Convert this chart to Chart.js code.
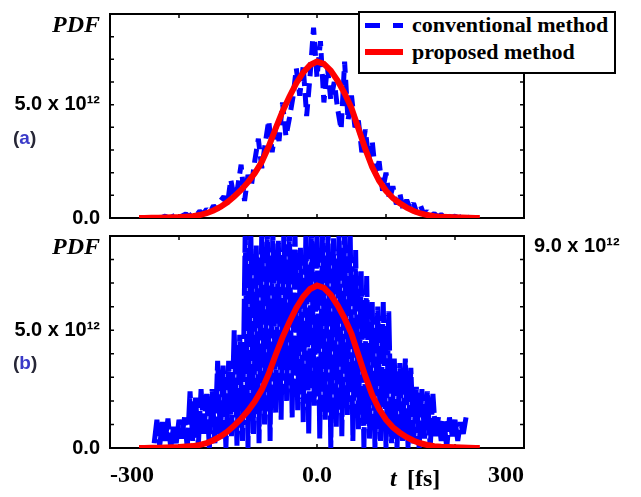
<!DOCTYPE html>
<html lang="en">
<head>
  <meta charset="UTF-8" />
  <title>PDF: conventional vs proposed method</title>
  <script src="https://cdn.jsdelivr.net/npm/chart.js"></script>
  <style>
    * { margin: 0; padding: 0; box-sizing: border-box; }
    body { background: #fff; width: 641px; height: 497px; overflow: hidden; position: relative; }
    canvas { position: absolute; left: 0; }
    #topChart { top: 0; }
    #bottomChart { top: 222px; }
    .legend {
      position: absolute; left: 358px; top: 11px; width: 258px; height: 63px;
      border: 2px solid #000; background: #fff;
      font: bold 22px 'Liberation Serif', 'Times New Roman', serif; color: #000;
    }
    .legend .row { position: absolute; left: 5px; height: 26px; display: flex; align-items: center; white-space: nowrap; }
    .legend .row1 { top: -1px; }
    .legend .row2 { top: 26px; }
    .legend .sample { width: 38px; margin-right: 9px; }
    .legend .dash { height: 5px; background: repeating-linear-gradient(90deg, #0000ff 0 15px, transparent 15px 28px); }
    .legend .solid { height: 6px; background: #ff0000; }
  </style>
</head>
<body>
  <canvas id="topChart" width="641" height="232"></canvas>
  <canvas id="bottomChart" width="641" height="275"></canvas>

  <div class="legend">
    <div class="row row1"><div class="sample dash"></div>conventional method</div>
    <div class="row row2"><div class="sample solid"></div>proposed method</div>
  </div>

  <script>
    // time axis in fs, PDF values in units of 10^12
    const tMin = -300, tMax = 300;
    const xTickLabels = { '-300': '-300', '0': '0.0', '300': '300' };
    const yTickLabels = { '0': '0.0', '5': '5.0 x 10\u00b9\u00b2' };
    const yTopLabel = '9.0 x 10\u00b9\u00b2';

    // proposed method (red, same curve in both panels)
    const redT = [-258, -250, -240, -230, -220, -210, -200, -190, -180, -170,
      -160, -150, -140, -130, -120, -110, -100, -90, -80, -70,
      -60, -50, -40, -30, -20, -10, 0, 10, 20, 30,
      40, 50, 60, 70, 80, 90, 100, 110, 120, 130,
      140, 150, 160, 170, 180, 190, 200, 210, 220, 230, 236];
    const redPdf = [0.00, 0.00, 0.01, 0.01, 0.02, 0.03, 0.04, 0.06, 0.08, 0.13,
      0.21, 0.33, 0.49, 0.69, 0.95, 1.24, 1.58, 1.98, 2.48, 3.15,
      3.95, 4.70, 5.35, 5.95, 6.42, 6.75, 6.90, 6.80, 6.50, 6.05,
      5.50, 4.85, 3.95, 3.05, 2.25, 1.65, 1.20, 0.88, 0.65, 0.46,
      0.31, 0.20, 0.13, 0.08, 0.05, 0.04, 0.03, 0.02, 0.01, 0.00, 0.00];

    // conventional method, panel (a): samples every 5 fs from -225
    const blueTopStart = -225, blueTopStep = 5;
    const blueTopPdf = [0.02, 0.08, 0.01, 0.05, 0.12, 0.03, 0.10, 0.18, 0.06, 0.22,
      0.12, 0.30, 0.18, 0.38, 0.25, 0.55, 0.35, 0.75, 0.95, 0.55,
      1.70, 0.90, 1.35, 2.35, 0.75, 1.90, 1.45, 2.55, 3.50, 2.20,
      3.30, 4.30, 2.90, 4.00, 3.40, 5.10, 3.60, 4.40, 5.30, 6.60,
      5.40, 6.70, 4.50, 6.30, 8.40, 6.20, 7.80, 5.10, 6.70, 5.20,
      6.00, 4.80, 3.90, 6.90, 4.30, 5.40, 4.00, 4.30, 2.90, 3.90,
      2.60, 3.40, 1.90, 2.50, 1.20, 2.00, 0.80, 1.40, 0.60, 1.10,
      0.35, 0.80, 0.40, 0.65, 0.20, 0.55, 0.15, 0.30, 0.08, 0.20,
      0.05, 0.15, 0.04, 0.10, 0.02, 0.08, 0.01, 0.06, 0.02, 0.04];

    // conventional method, panel (b): samples every 4 fs from -236
    const blueBotStart = -236, blueBotStep = 4;
    const blueBotPdf = [0.2, 1.2, 0.1, 1.1, 0.3, 1.25, 0.0, 0.9, 0.2, 1.2,
      0.4, 1.3, 0.0, 2.4, 0.3, 2.2, 0.1, 2.5, 0.6, 2.3,
      0.0, 2.5, 0.2, 3.7, 0.4, 3.5, 0.0, 3.7, 0.5, 5.0,
      0.1, 4.8, 0.3, 9.3, 0.0, 9.4, 0.6, 8.6, 0.2, 9.4,
      1.0, 9.2, 0.3, 9.4, 1.5, 8.8, 1.2, 9.4, 2.0, 9.3,
      1.3, 9.4, 1.6, 8.5, 1.1, 9.4, 0.6, 9.3, 1.8, 9.4,
      0.4, 9.2, 1.2, 9.4, 0.0, 8.9, 0.9, 9.4, 0.5, 9.3,
      1.4, 9.4, 0.3, 8.4, 0.8, 7.5, 0.0, 7.3, 0.4, 6.2,
      0.0, 6.0, 0.3, 6.2, 0.0, 5.8, 0.2, 3.8, 0.0, 3.6,
      0.3, 3.8, 0.0, 3.4, 0.2, 2.6, 0.0, 2.5, 0.4, 2.4,
      0.0, 2.3, 0.5, 1.3, 0.3, 1.2, 0.0, 1.3, 0.5, 1.2,
      0.3, 1.1, 0.6, 1.3];

    const BLUE = '#0000ff';
    const RED = '#ff0000';

    function pairs(ts, ys) { return ys.map((v, i) => ({ x: ts[i], y: v })); }
    function sampled(start, step, ys) { return ys.map((v, i) => ({ x: start + i * step, y: v })); }

    // frame + inward tick marks on all four sides
    const framePlugin = {
      id: 'frame',
      beforeDatasetsDraw(chart) {
        const { ctx, chartArea: a, scales } = chart;
        ctx.save();
        ctx.strokeStyle = '#000';
        ctx.lineWidth = 2;
        ctx.strokeRect(a.left, a.top, a.right - a.left, a.bottom - a.top);
        ctx.lineWidth = 1.5;
        ctx.beginPath();
        scales.y.ticks.forEach(t => {
          const py = scales.y.getPixelForValue(t.value);
          ctx.moveTo(a.left, py); ctx.lineTo(a.left + 4, py);
          ctx.moveTo(a.right, py); ctx.lineTo(a.right - 4, py);
        });
        scales.x.ticks.forEach(t => {
          const px = scales.x.getPixelForValue(t.value);
          ctx.moveTo(px, a.top); ctx.lineTo(px, a.top + 4);
          ctx.moveTo(px, a.bottom); ctx.lineTo(px, a.bottom - 4);
        });
        ctx.stroke();
        ctx.restore();
      }
    };

    // "PDF", panel letter and the time-axis title
    const labelPlugin = {
      id: 'panelLabels',
      afterDraw(chart, args, opts) {
        const { ctx, chartArea: a, scales } = chart;
        ctx.save();
        ctx.fillStyle = '#000';
        ctx.font = 'italic bold 24px "Liberation Serif", serif';
        ctx.textAlign = 'right';
        ctx.textBaseline = 'alphabetic';
        ctx.fillText('PDF', 100, a.top + 18);

        const ly = scales.y.getPixelForValue(5) + 34;
        ctx.font = 'bold 19px "Liberation Sans", Arial, sans-serif';
        ctx.textAlign = 'left';
        ctx.textBaseline = 'middle';
        let lx = 13;
        ctx.fillStyle = '#262636';
        ctx.fillText('(', lx, ly);
        lx += ctx.measureText('(').width;
        ctx.fillStyle = '#3a3ac8';
        ctx.fillText(opts.letter, lx, ly);
        lx += ctx.measureText(opts.letter).width;
        ctx.fillStyle = '#262636';
        ctx.fillText(')', lx, ly);

        if (opts.timeTitle) {
          const ty = a.bottom + 38;
          ctx.fillStyle = '#000';
          ctx.textBaseline = 'alphabetic';
          ctx.font = 'italic bold 24px "Liberation Serif", serif';
          ctx.fillText('t', 390, ty);
          ctx.font = 'bold 24px "Liberation Serif", serif';
          ctx.fillText('[fs]', 407, ty);
        }
        ctx.restore();
      }
    };

    function yScale() {
      return {
        min: 0, max: 9,
        grid: { display: false },
        border: { display: false },
        ticks: {
          stepSize: 1, padding: 2, color: '#000', autoSkip: false,
          font: { family: '"Liberation Sans", Arial, sans-serif', size: 20, weight: 'bold' },
          callback: v => yTickLabels[String(v)] || ''
        },
        afterFit: s => { s.width = 110; }
      };
    }

    function datasets(blueData, dash) {
      return [
        {
          label: 'proposed method', data: pairs(redT, redPdf), order: 0,
          borderColor: RED, borderWidth: 6, pointRadius: 0, tension: 0
        },
        {
          label: 'conventional method', data: blueData, order: 1,
          borderColor: BLUE, borderWidth: 5, borderDash: dash, pointRadius: 0,
          tension: 0, borderJoinStyle: 'bevel'
        }
      ];
    }

    new Chart(document.getElementById('topChart'), {
      type: 'line',
      data: { datasets: datasets(sampled(blueTopStart, blueTopStep, blueTopPdf), [14, 7]) },
      options: {
        responsive: false, animation: false,
        layout: { padding: { top: 4, right: 117, bottom: 0, left: 0 } },
        plugins: { legend: { display: false }, tooltip: { enabled: false }, panelLabels: { letter: 'a', timeTitle: false } },
        scales: {
          x: {
            type: 'linear', min: tMin, max: tMax,
            grid: { display: false }, border: { display: false },
            ticks: { stepSize: 100, display: false },
            afterFit: s => { s.height = 12; }
          },
          y: yScale()
        }
      },
      plugins: [framePlugin, labelPlugin]
    });

    new Chart(document.getElementById('bottomChart'), {
      type: 'line',
      data: { datasets: datasets(sampled(blueBotStart, blueBotStep, blueBotPdf), [40, 3]) },
      options: {
        responsive: false, animation: false,
        layout: { padding: { top: 9, right: 0, bottom: 0, left: 0 } },
        plugins: { legend: { display: false }, tooltip: { enabled: false }, panelLabels: { letter: 'b', timeTitle: true } },
        scales: {
          x: {
            type: 'linear', min: tMin, max: tMax,
            grid: { display: false }, border: { display: false },
            ticks: {
              stepSize: 100, padding: 5, color: '#000', align: 'inner', maxRotation: 0,
              autoSkip: false,
              font: { family: '"Liberation Serif", "Times New Roman", serif', size: 24, weight: 'bold' },
              callback: v => xTickLabels[String(v)] || ''
            },
            afterFit: s => { s.height = 49; }
          },
          y: yScale(),
          y2: {
            position: 'right', min: 0, max: 9,
            grid: { display: false }, border: { display: false },
            ticks: {
              stepSize: 9, padding: 2, color: '#000', align: 'start', autoSkip: false,
              font: { family: '"Liberation Sans", Arial, sans-serif', size: 20, weight: 'bold' },
              callback: v => (v === 9 ? yTopLabel : '')
            },
            afterFit: s => { s.width = 117; }
          }
        }
      },
      plugins: [framePlugin, labelPlugin]
    });
  </script>
</body>
</html>
